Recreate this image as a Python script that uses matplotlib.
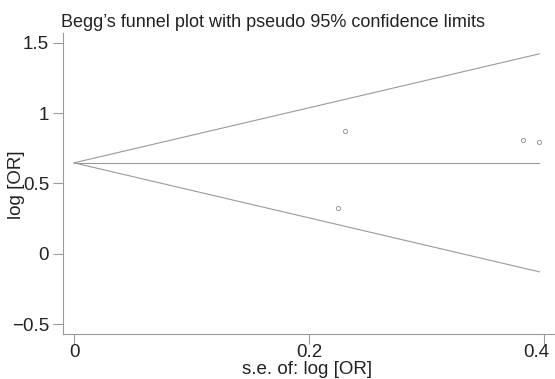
import matplotlib.pyplot as plt
import matplotlib.transforms as mtransforms
import numpy as np

plt.rcParams['font.family'] = ['Liberation Sans', 'DejaVu Sans']

# dati: errore standard e log OR degli studi
se = [0.2304, 0.2244, 0.3820, 0.3957]
logor = [0.873, 0.327, 0.808, 0.797]
pooled = 0.647
xticks = [0, 0.2, 0.4]
xticklabels = ['0', '0.2', '0.4']
yticks = [-0.5, 0, 0.5, 1, 1.5]
yticklabels = ['\u22120.5', '0', '0.5', '1', '1.5']

grey = '#9a9a9a'
txt = '#222222'

fig = plt.figure(figsize=(5.55, 3.79), dpi=100)
ax = fig.add_axes([0.1135, 0.1187, 0.8865, 0.7943])

# limiti pseudo 95%
smax = max(se)
s = np.array([0, smax])
ax.plot(s, pooled + 1.96 * s, color=grey, lw=0.8)
ax.plot(s, pooled - 1.96 * s, color=grey, lw=0.8)
ax.plot(s, [pooled, pooled], color=grey, lw=0.8)
ax.plot(se, logor, 'o', ms=3, mfc='none', mec=grey, mew=0.7)

ax.set_xlim(-0.0094, 0.409)
ax.set_ylim(-0.571, 1.571)
ax.set_xticks(xticks)
ax.set_xticklabels(xticklabels)
ax.set_yticks(yticks)
ax.set_yticklabels(yticklabels)
ax.tick_params(colors=grey, labelcolor=txt, labelsize=13.5, length=7, width=0.8)
ax.tick_params(axis='x', pad=0)
ax.tick_params(axis='y', pad=3)
for sp in ['top', 'right']:
    ax.spines[sp].set_visible(False)
for sp in ['left', 'bottom']:
    ax.spines[sp].set_color(grey)
    ax.spines[sp].set_linewidth(0.8)

# l'ultima etichetta sta sul bordo: spostata un po' a sinistra
last = ax.get_xticklabels()[-1]
last.set_transform(last.get_transform() +
                   mtransforms.ScaledTranslation(-0.08, 0, fig.dpi_scale_trans))

ax.set_ylabel('log [OR]', fontsize=13.5, color=txt)
ax.yaxis.set_label_coords(-0.0955, 0.495)
ax.set_xlabel('s.e. of: log [OR]', fontsize=13.5, color=txt)
ax.xaxis.set_label_coords(0.496, -0.117)
ax.xaxis.label.set_va('center')
ax.yaxis.label.set_va('center')
ax.set_title("Begg\u2019s funnel plot with pseudo 95% confidence limits",
             fontsize=13, loc='left', x=-0.004, pad=4, color=txt)

plt.savefig('out.png', dpi=100)
